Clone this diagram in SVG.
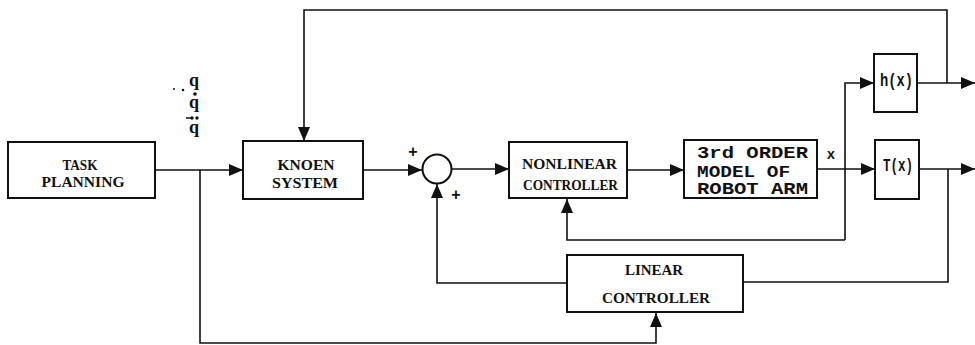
<svg xmlns="http://www.w3.org/2000/svg" width="975" height="345" viewBox="0 0 975 345">
<style>
.box{fill:#fff;stroke:#111;stroke-width:2}
.ln{fill:none;stroke:#111;stroke-width:1.6}
.t{font-family:"Liberation Serif",serif;font-weight:bold;font-size:15px;fill:#111}
.m{font-family:"Liberation Mono",monospace;font-weight:bold;font-size:16px;fill:#111}
.q{font-family:"Liberation Serif",serif;font-weight:bold;font-size:18px;fill:#111}
.p{font-family:"Liberation Sans",sans-serif;font-weight:bold;font-size:16px;fill:#111;text-anchor:middle}
.c{text-anchor:middle}
</style>
<defs>
<marker id="ah" viewBox="0 0 14 12" refX="14" refY="6" markerWidth="14" markerHeight="12" markerUnits="userSpaceOnUse" orient="auto">
<path d="M0,0 L14,6 L0,12 Z" fill="#111"/>
</marker>
</defs>
<rect width="975" height="345" fill="#fff"/>
<g id="connectors">
<path class="ln" d="M155,170 L243,170" marker-end="url(#ah)"/>
<path class="ln" d="M200,170 L200,343 L656,343 L656,313" marker-end="url(#ah)"/>
<path class="ln" d="M947,83 L947,10 L304,10 L304,141" marker-end="url(#ah)"/>
<path class="ln" d="M363,170 L422,170" marker-end="url(#ah)"/>
<path class="ln" d="M452,169 L509,169" marker-end="url(#ah)"/>
<path class="ln" d="M627,170 L684,170" marker-end="url(#ah)"/>
<path class="ln" d="M817,169 L875,169" marker-end="url(#ah)"/>
<path class="ln" d="M845,240 L845,83 L874,83" marker-end="url(#ah)"/>
<path class="ln" d="M845,240 L567,240 L567,199" marker-end="url(#ah)"/>
<path class="ln" d="M917,83 L975,83" marker-end="url(#ah)"/>
<path class="ln" d="M919,169 L975,169" marker-end="url(#ah)"/>
<path class="ln" d="M948,169 L948,282 L743,282"/>
<path class="ln" d="M567,283 L437,283 L437,184" marker-end="url(#ah)"/>
</g>
<g id="task-planning">
<rect class="box" x="8" y="142" width="147" height="56"/>
<text class="t c" x="80" y="170" textLength="35" lengthAdjust="spacingAndGlyphs">TASK</text>
<text class="t c" x="83" y="187" textLength="83" lengthAdjust="spacingAndGlyphs">PLANNING</text>
</g>
<g id="q-labels">
<text class="q" x="189" y="86">q</text>
<text class="q" x="189" y="108">q</text>
<text class="q" x="189" y="133">q</text>
<circle cx="174" cy="89" r="1" fill="#111"/>
<circle cx="183" cy="90" r="1.3" fill="#111"/>
<circle cx="195" cy="94" r="1.8" fill="#111"/>
<circle cx="192" cy="118" r="1.7" fill="#111"/>
<circle cx="197" cy="118" r="1.7" fill="#111"/>
<path d="M186,118 L191,118" stroke="#111" stroke-width="1.5"/>
</g>
<g id="knoen-system">
<rect class="box" x="243" y="141" width="120" height="58"/>
<text class="t c" x="306" y="170" textLength="57" lengthAdjust="spacingAndGlyphs">KNOEN</text>
<text class="t c" x="305" y="188" textLength="66" lengthAdjust="spacingAndGlyphs">SYSTEM</text>
</g>
<g id="summing-junction">
<circle cx="437" cy="169" r="14.5" fill="#fff" stroke="#111" stroke-width="2"/>
<text class="p" x="413" y="157">+</text>
<text class="p" x="456" y="200">+</text>
</g>
<g id="nonlinear-controller">
<rect class="box" x="509" y="142" width="118" height="56"/>
<text class="t c" x="569.5" y="169" textLength="95" lengthAdjust="spacingAndGlyphs">NONLINEAR</text>
<text class="t c" x="570.5" y="190" textLength="95" lengthAdjust="spacingAndGlyphs">CONTROLLER</text>
</g>
<g id="robot-arm-model">
<rect class="box" x="684" y="140" width="133" height="58"/>
<text class="m" x="697" y="158" textLength="111" lengthAdjust="spacingAndGlyphs">3rd ORDER</text>
<text class="m" x="697" y="177" textLength="93" lengthAdjust="spacingAndGlyphs">MODEL OF</text>
<text class="m" x="697" y="194" textLength="111" lengthAdjust="spacingAndGlyphs">ROBOT ARM</text>
</g>
<text class="m c" x="831" y="159" style="font-size:14px">x</text>
<g id="h-block">
<rect class="box" x="874" y="54" width="43" height="58"/>
<text class="m c" x="896.5" y="86" style="font-size:19px" textLength="33" lengthAdjust="spacingAndGlyphs">h(x)</text>
</g>
<g id="t-block">
<rect class="box" x="875" y="140" width="44" height="59"/>
<text class="m c" x="898" y="171" style="font-size:19px" textLength="30" lengthAdjust="spacingAndGlyphs">T(x)</text>
</g>
<g id="linear-controller">
<rect class="box" x="567" y="255" width="176" height="57"/>
<text class="t c" x="654" y="275" textLength="58" lengthAdjust="spacingAndGlyphs">LINEAR</text>
<text class="t c" x="656" y="303" textLength="108" lengthAdjust="spacingAndGlyphs">CONTROLLER</text>
</g>
</svg>
